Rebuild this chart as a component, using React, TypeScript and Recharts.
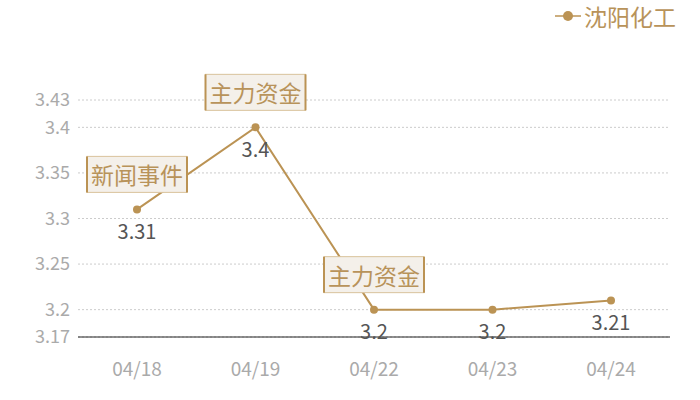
import React from 'react';
import { LineChart, Line, XAxis, YAxis, CartesianGrid, Legend, LabelList } from 'recharts';

const dates = ['04/18', '04/19', '04/22', '04/23', '04/24'];
const prices = [3.31, 3.4, 3.2, 3.2, 3.21];
const events = ['新闻事件', '主力资金', '主力资金', '', ''];
const yTicks = [3.17, 3.2, 3.25, 3.3, 3.35, 3.4, 3.43];

const seriesName = '沈阳化工';
const gold = '#bb9354';
const font = '"Noto Sans CJK SC", "Noto Sans", sans-serif';

const data = dates.map((d, i) => ({ date: d, price: prices[i], event: events[i] }));

function PointLabel(props: any) {
    const { x, y, value, index } = props;
    const ev = events[index];
    return (
        <g>
            <text x={x} y={y + 21} textAnchor="middle" dominantBaseline="central" fill="#555" fontSize={20} fontFamily={font}>
                {value}
            </text>
            {ev ? (
                <g>
                    <rect x={x - 50} y={y - 53} width={100} height={36} fill="#f4f0ea" stroke="#d9c29c" strokeWidth={1} />
                    <line x1={x - 50} y1={y - 53} x2={x - 50} y2={y - 17} stroke={gold} strokeWidth={2} />
                    <line x1={x + 50} y1={y - 53} x2={x + 50} y2={y - 17} stroke={gold} strokeWidth={2} />
                    <text x={x} y={y - 35} textAnchor="middle" dominantBaseline="central" fill="#b8935a" fontSize={23} fontFamily={font}>
                        {ev}
                    </text>
                </g>
            ) : null}
        </g>
    );
}

function LegendContent() {
    return (
        <div style={{ display: 'flex', alignItems: 'center', justifyContent: 'flex-end', fontFamily: font, color: '#b8935a', fontSize: 23, lineHeight: '30px' }}>
            <svg width={26} height={14} style={{ marginRight: 3 }}>
                <line x1={0} y1={7} x2={26} y2={7} stroke={gold} strokeWidth={1.5} />
                <circle cx={13} cy={7} r={5} fill={gold} />
            </svg>
            <span>{seriesName}</span>
        </div>
    );
}

export default function App() {
    return (
        <div style={{ position: 'absolute', left: 0, top: 0, width: 700, height: 400, background: '#fff' }}>
            <LineChart width={700} height={400} data={data} margin={{ top: 70, right: 30, bottom: 0, left: 0 }}>
                <CartesianGrid vertical={false} stroke="#ccc" strokeDasharray="2 2" />
                <XAxis
                    dataKey="date"
                    height={63}
                    padding={{ left: 59, right: 59 }}
                    axisLine={{ stroke: '#222', strokeWidth: 1 }}
                    tickLine={false}
                    tickSize={0}
                    tickMargin={26}
                    tick={{ fill: '#aaa', fontSize: 19, fontFamily: font }}
                />
                <YAxis
                    domain={[3.17, 3.43]}
                    ticks={yTicks}
                    width={78}
                    axisLine={false}
                    tickLine={false}
                    tickSize={0}
                    tickMargin={8}
                    tick={{ fill: '#aaa', fontSize: 18, fontFamily: font }}
                />
                <Legend
                    verticalAlign="top"
                    align="right"
                    height={30}
                    content={<LegendContent />}
                    wrapperStyle={{ top: 1, right: 24, width: 200 }}
                />
                <Line
                    type="linear"
                    dataKey="price"
                    name={seriesName}
                    stroke={gold}
                    strokeWidth={2}
                    dot={{ r: 4, fill: gold, stroke: gold, strokeWidth: 0 }}
                    activeDot={false}
                    isAnimationActive={false}
                >
                    <LabelList dataKey="price" content={<PointLabel />} />
                </Line>
            </LineChart>
        </div>
    );
}
